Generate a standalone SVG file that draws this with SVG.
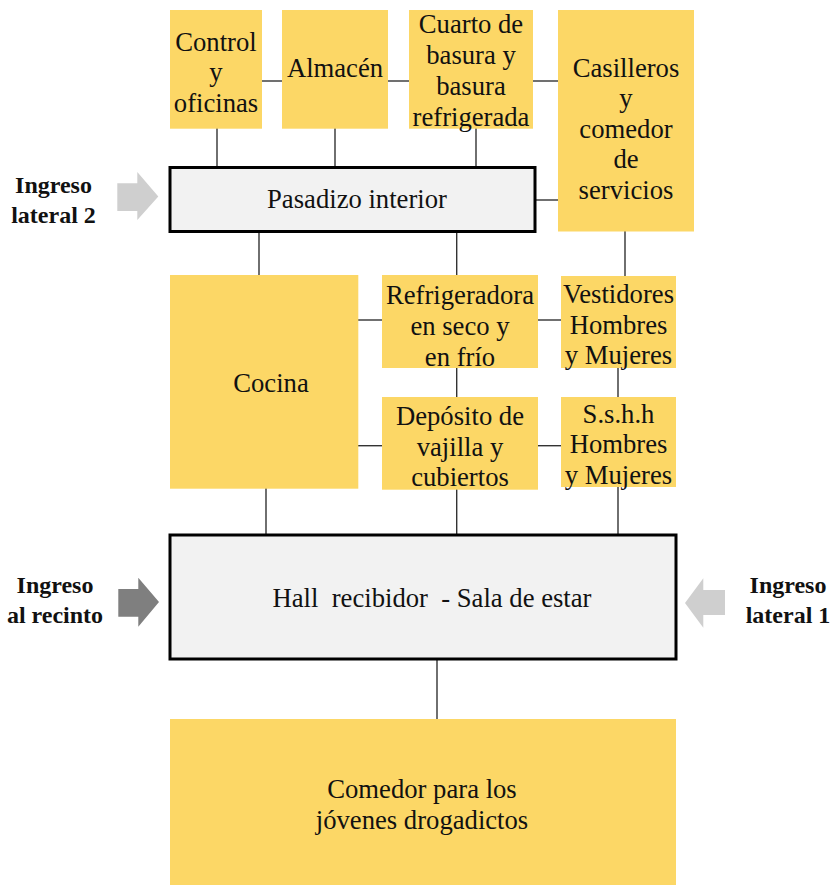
<svg xmlns="http://www.w3.org/2000/svg" width="830" height="885" viewBox="0 0 830 885">
<style>
.y{fill:#fcd766}
.g{fill:#f2f2f2;stroke:#000;stroke-width:3}
text{font-family:'Liberation Serif','DejaVu Serif',serif;font-size:26.67px;fill:#111;text-anchor:middle}
.b{font-weight:bold;font-size:24px}
.c line{stroke:#333;stroke-width:1.4}
</style>
<rect width="830" height="885" fill="#fff"/>
<g class="c" id="connectors">
<line x1="262" y1="81" x2="282" y2="81"/>
<line x1="388" y1="81" x2="409" y2="81"/>
<line x1="533" y1="81" x2="558" y2="81"/>
<line x1="217" y1="128" x2="217" y2="167"/>
<line x1="335" y1="128" x2="335" y2="167"/>
<line x1="476" y1="128" x2="476" y2="167"/>
<line x1="535" y1="200" x2="558" y2="200"/>
<line x1="259" y1="232" x2="259" y2="275"/>
<line x1="456.7" y1="232" x2="456.7" y2="275"/>
<line x1="625" y1="231" x2="625" y2="276"/>
<line x1="358" y1="320" x2="382" y2="320"/>
<line x1="538" y1="320" x2="561" y2="320"/>
<line x1="456.7" y1="368" x2="456.7" y2="397"/>
<line x1="618" y1="368" x2="618" y2="397"/>
<line x1="358" y1="445.7" x2="382" y2="445.7"/>
<line x1="538" y1="445.7" x2="561" y2="445.7"/>
<line x1="266" y1="488" x2="266" y2="535"/>
<line x1="456.7" y1="489" x2="456.7" y2="535"/>
<line x1="618" y1="487" x2="618" y2="535"/>
<line x1="437" y1="659" x2="437" y2="719"/>
</g>
<g font-family="Liberation Serif, DejaVu Serif, serif">
<g id="control">
<rect class="y" x="170" y="10" width="92" height="118.7"/>
<text x="216" y="50.7">Control</text>
<text x="216" y="81.2">y</text>
<text x="216" y="111.7">oficinas</text>
</g>
<g id="almacen">
<rect class="y" x="282" y="10" width="106" height="118.7"/>
<text x="335" y="76.7">Almacén</text>
</g>
<g id="cuarto">
<rect class="y" x="409" y="10" width="124" height="118.7"/>
<text x="471" y="33.3">Cuarto de</text>
<text x="471" y="64">basura y</text>
<text x="471" y="95">basura</text>
<text x="471" y="126">refrigerada</text>
</g>
<g id="casilleros">
<rect class="y" x="558" y="10" width="136" height="221.5"/>
<text x="626" y="76.7">Casilleros</text>
<text x="626" y="107">y</text>
<text x="626" y="137.5">comedor</text>
<text x="626" y="168">de</text>
<text x="626" y="198.5">servicios</text>
</g>
<g id="pasadizo">
<rect class="g" x="170" y="167.5" width="365" height="64"/>
<text x="357" y="208.3">Pasadizo interior</text>
</g>
<g id="cocina">
<rect class="y" x="170" y="275" width="188.3" height="213.7"/>
<text x="271" y="391.7">Cocina</text>
</g>
<g id="refrigeradora">
<rect class="y" x="382" y="275" width="156" height="93"/>
<text x="460" y="304.3">Refrigeradora</text>
<text x="460" y="335">en seco y</text>
<text x="460" y="366">en frío</text>
</g>
<g id="vestidores">
<rect class="y" x="561" y="276" width="115" height="92"/>
<text x="618.5" y="303.3">Vestidores</text>
<text x="618.5" y="333.5">Hombres</text>
<text x="618.5" y="364">y Mujeres</text>
</g>
<g id="deposito">
<rect class="y" x="382" y="397" width="156" height="92.7"/>
<text x="460" y="425">Depósito de</text>
<text x="460" y="455.5">vajilla y</text>
<text x="460" y="486">cubiertos</text>
</g>
<g id="sshh">
<rect class="y" x="561" y="397" width="115" height="90"/>
<text x="618.5" y="422.7">S.s.h.h</text>
<text x="618.5" y="453.3">Hombres</text>
<text x="618.5" y="484">y Mujeres</text>
</g>
<g id="hall">
<rect class="g" x="170" y="535" width="506" height="124"/>
<text x="432" y="607" xml:space="preserve">Hall  recibidor  - Sala de estar</text>
</g>
<g id="comedor">
<rect class="y" x="170" y="719" width="506" height="166"/>
<text x="422" y="798">Comedor para los</text>
<text x="422" y="828.5">jóvenes drogadictos</text>
</g>
<g id="ingreso-lateral-2">
<text class="b" x="53.5" y="193.3">Ingreso</text>
<text class="b" x="53.5" y="223.3">lateral 2</text>
<polygon points="117.3,183.3 137.3,183.3 137.3,172 158.3,196.5 137.3,220 137.3,211 117.3,211" fill="#cfcfcf"/>
</g>
<g id="ingreso-recinto">
<text class="b" x="55" y="593.3">Ingreso</text>
<text class="b" x="55" y="623.3">al recinto</text>
<polygon points="118.3,589 138.3,589 138.3,577.7 159,602 138.3,626.7 138.3,616.7 118.3,616.7" fill="#7f7f7f"/>
</g>
<g id="ingreso-lateral-1">
<text class="b" x="788" y="593.3">Ingreso</text>
<text class="b" x="788" y="623.3">lateral 1</text>
<polygon points="725,590 703.3,590 703.3,578.3 685,603 703.3,627.7 703.3,615 725,615" fill="#cfcfcf"/>
</g>
</g>
</svg>
